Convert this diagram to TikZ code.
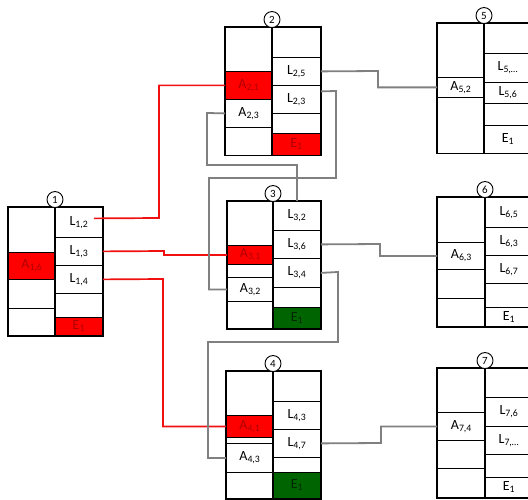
\documentclass[tikz,border=0pt]{standalone}
\usepackage{fontspec}
\setmainfont{Carlito}
\definecolor{cellred}{HTML}{FF0000}
\definecolor{txtred}{HTML}{B00000}
\definecolor{cellgreen}{HTML}{006400}
\definecolor{txtgreen}{HTML}{002800}
\definecolor{wiregray}{HTML}{808080}
\definecolor{wirered}{HTML}{F01010}
\newcommand\sbx[1]{\textsubscript{#1}}
% name, left x, top y, bottom y, width, extra style, text  (all in px, y downwards)
\newcommand\cellnode[7]{%
  \node[cellbox,#6,minimum width=#5pt,minimum height={#4pt-#3pt},anchor=north west]
    (#1) at (#2pt,-#3pt) {#7};}
\tikzset{
  cellbox/.style={draw=black,line width=0.8pt,inner sep=0pt,font=\fontsize{14}{14}\selectfont},
  redcell/.style={fill=cellred,text=txtred},
  greencell/.style={fill=cellgreen,text=txtgreen},
  blockframe/.style={draw=black,line width=1.4pt},
  numcirc/.style={circle,draw=black,fill=white,line width=0.9pt,inner sep=0pt,
    minimum size=16pt,font=\fontsize{11}{11}\selectfont,anchor=south,yshift=-1pt},
  graywire/.style={draw=wiregray,line width=1.8pt},
  redwire/.style={draw=wirered,line width=1.7pt},
}
\begin{document}
\begin{tikzpicture}
\useasboundingbox (0,0) rectangle (528pt,-500pt);

% ---- block 1 ----
\cellnode{b1l1}{8}{207}{252}{47}{}{}
\cellnode{A16}{8}{252}{279}{47}{redcell}{A\sbx{1,6}}
\cellnode{b1l3}{8}{279}{308}{47}{}{}
\cellnode{b1l4}{8}{308}{335}{47}{}{}
\cellnode{L12}{55}{207}{237}{47}{}{L\sbx{1,2}}
\cellnode{L13}{55}{237}{265}{47}{}{L\sbx{1,3}}
\cellnode{L14}{55}{265}{293}{47}{}{L\sbx{1,4}}
\cellnode{b1r4}{55}{293}{317}{47}{}{}
\cellnode{E1}{55}{317}{335}{47}{redcell}{E\sbx{1}}
\draw[blockframe] (b1l1.north west) rectangle (E1.south east);
\draw[blockframe] (L12.north west) -- (E1.south west);
\node[numcirc] (n1) at (L12.north west) {1};

% ---- block 2 ----
\cellnode{b2l1}{225}{27}{71}{47}{}{}
\cellnode{A21}{225}{71}{99}{47}{redcell}{A\sbx{2,1}}
\cellnode{A23}{225}{99}{127}{47}{}{A\sbx{2,3}}
\cellnode{b2l4}{225}{127}{155}{47}{}{}
\cellnode{b2r1}{272}{27}{57}{48}{}{}
\cellnode{L25}{272}{57}{85}{48}{}{L\sbx{2,5}}
\cellnode{L23}{272}{85}{113}{48}{}{L\sbx{2,3}}
\cellnode{b2r4}{272}{113}{133}{48}{}{}
\cellnode{E2}{272}{133}{155}{48}{redcell}{E\sbx{1}}
\draw[blockframe] (b2l1.north west) rectangle (E2.south east);
\draw[blockframe] (b2r1.north west) -- (E2.south west);
\node[numcirc] (n2) at (b2r1.north west) {2};

% ---- block 3 ----
\cellnode{b3l1}{227}{201}{245}{46}{}{}
\cellnode{A31}{227}{245}{264}{46}{redcell}{A\sbx{3,1}}
\cellnode{b3l2}{227}{264}{277}{46}{}{}
\cellnode{A32}{227}{277}{301}{46}{}{A\sbx{3,2}}
\cellnode{b3l5}{227}{301}{328}{46}{}{}
\cellnode{L32}{273}{201}{230}{47}{}{L\sbx{3,2}}
\cellnode{L36}{273}{230}{258}{47}{}{L\sbx{3,6}}
\cellnode{L34}{273}{258}{287}{47}{}{L\sbx{3,4}}
\cellnode{b3r4}{273}{287}{307}{47}{}{}
\cellnode{E3}{273}{307}{328}{47}{greencell}{E\sbx{1}}
\draw[blockframe] (b3l1.north west) rectangle (E3.south east);
\draw[blockframe] (L32.north west) -- (E3.south west);
\node[numcirc] (n3) at (L32.north west) {3};

% ---- block 4 ----
\cellnode{b4l1}{226}{371}{415}{47}{}{}
\cellnode{A41}{226}{415}{437}{47}{redcell}{A\sbx{4,1}}
\cellnode{b4l2}{226}{437}{443}{47}{}{}
\cellnode{A43}{226}{443}{472}{47}{}{A\sbx{4,3}}
\cellnode{b4l5}{226}{472}{498}{47}{}{}
\cellnode{b4r1}{273}{371}{401}{47}{}{}
\cellnode{L43}{273}{401}{429}{47}{}{L\sbx{4,3}}
\cellnode{L47}{273}{429}{457}{47}{}{L\sbx{4,7}}
\cellnode{b4r4}{273}{457}{472}{47}{}{}
\cellnode{E4}{273}{472}{498}{47}{greencell}{E\sbx{1}}
\draw[blockframe] (b4l1.north west) rectangle (E4.south east);
\draw[blockframe] (b4r1.north west) -- (E4.south west);
\node[numcirc] (n4) at (b4r1.north west) {4};

% ---- block 5 ----
\cellnode{b5l1}{437}{23}{77}{47}{}{}
\cellnode{A52}{437}{77}{97}{47}{}{A\sbx{5,2}}
\cellnode{b5l3}{437}{97}{153}{47}{}{}
\cellnode{b5r1}{484}{23}{53}{47}{}{}
\cellnode{L5x}{484}{53}{82}{47}{}{L\sbx{5,\dots}}
\cellnode{L56}{484}{82}{103}{47}{}{L\sbx{5,6}}
\cellnode{b5r4}{484}{103}{125}{47}{}{}
\cellnode{E5}{484}{125}{153}{47}{}{E\sbx{1}}
\draw[blockframe] (b5l1.north west) rectangle (E5.south east);
\draw[blockframe] (b5r1.north west) -- (E5.south west);
\node[numcirc] (n5) at (b5r1.north west) {5};

% ---- block 6 ----
\cellnode{b6l1}{437}{197}{242}{48}{}{}
\cellnode{A63}{437}{242}{269}{48}{}{A\sbx{6,3}}
\cellnode{b6l3}{437}{269}{298}{48}{}{}
\cellnode{b6l4}{437}{298}{326}{48}{}{}
\cellnode{L65}{485}{197}{227}{47}{}{L\sbx{6,5}}
\cellnode{L63}{485}{227}{255}{47}{}{L\sbx{6,3}}
\cellnode{L67}{485}{255}{283}{47}{}{L\sbx{6,7}}
\cellnode{b6r4}{485}{283}{307}{47}{}{}
\cellnode{E6}{485}{307}{326}{47}{}{E\sbx{1}}
\draw[blockframe] (b6l1.north west) rectangle (E6.south east);
\draw[blockframe] (L65.north west) -- (E6.south west);
\node[numcirc] (n6) at (L65.north west) {6};

% ---- block 7 ----
\cellnode{b7l1}{437}{368}{412}{48}{}{}
\cellnode{A74}{437}{412}{440}{48}{}{A\sbx{7,4}}
\cellnode{b7l3}{437}{440}{468}{48}{}{}
\cellnode{b7l4}{437}{468}{497}{48}{}{}
\cellnode{b7r1}{485}{368}{397}{47}{}{}
\cellnode{L76}{485}{397}{426}{47}{}{L\sbx{7,6}}
\cellnode{L7x}{485}{426}{454}{47}{}{L\sbx{7,\dots}}
\cellnode{b7r4}{485}{454}{477}{47}{}{}
\cellnode{E7}{485}{477}{497}{47}{}{E\sbx{1}}
\draw[blockframe] (b7l1.north west) rectangle (E7.south east);
\draw[blockframe] (b7r1.north west) -- (E7.south west);
\node[numcirc] (n7) at (b7r1.north west) {7};

% ---- red links from block 1 ----
\draw[redwire] ([xshift=-9pt,yshift=4pt]L12.east) -- (159pt,-218pt) |- (A21.west);
\draw[redwire] (L13.east) -- (164pt,-251pt) |- (A31.west);
\draw[redwire] (L14.east) -- (163pt,-279pt) |- (A41.west);

% ---- gray links ----
\draw[graywire] (L25.east) -- (378pt,-71pt) |- (A52.west);
\draw[graywire] ([yshift=8pt]L23.east) -- (336pt,-91pt) -- (336pt,-178pt)
  -- (209pt,-178pt) |- (A32.west);
\draw[graywire] (A23.west) -- (207pt,-113pt) -- (207pt,-165pt) -| (L32.north);
\draw[graywire] (L36.east) -- (380pt,-244pt) |- (A63.west);
\draw[graywire] (L34.east) -- (338pt,-272pt) -- (338pt,-342pt)
  -- (208pt,-342pt) |- (A43.west);
\draw[graywire] (L47.east) -- (381pt,-443pt) |- (A74.west);
\end{tikzpicture}
\end{document}
